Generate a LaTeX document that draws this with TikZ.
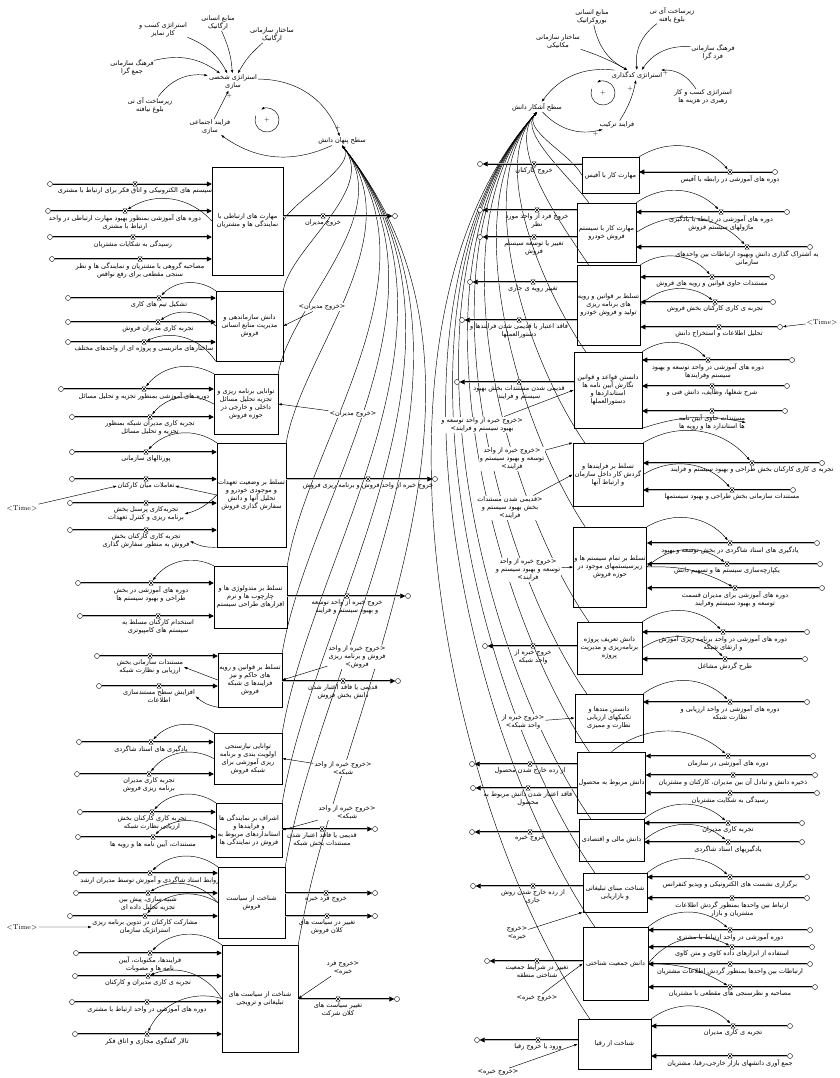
\documentclass[tikz,border=0pt]{standalone}
\usepackage{fontspec}
\usetikzlibrary{positioning,arrows.meta}
\newfontfamily\arabicfont[Script=Arabic]{DejaVu Sans}
\TeXXeTstate=1
\begin{document}
\begin{tikzpicture}[x=1pt,y=-1pt,
  every node/.style={font=\arabicfont\fontsize{6.5}{8}\selectfont},
  stock/.style={draw,line width=0.5pt,align=center,inner sep=1pt},
  cloud/.style={draw,circle,minimum size=5pt,inner sep=0pt,line width=0.4pt,fill=white},
  valve/.style={minimum size=4.5pt,inner sep=0pt,fill=white,path picture={\draw[line width=0.4pt] (path picture bounding box.north west) -- (path picture bounding box.south east) -- (path picture bounding box.south west) -- (path picture bounding box.north east) -- cycle;}},
  pipe/.style={line width=0.6pt,double=gray!55,double distance=1pt,-{Triangle[length=5pt,width=5pt]}},
  link/.style={line width=0.45pt,-{Latex[length=3.5pt,width=2.5pt]}},
  lab/.style={align=center,inner sep=0.5pt},
  shadow/.style={lab,fill=white,inner sep=1pt},
  timevar/.style={font=\rmfamily\fontsize{7}{8}\selectfont,inner sep=1pt},
  sign/.style={font=\fontsize{6}{6}\selectfont,inner sep=0.5pt}]
\useasboundingbox (0,0) rectangle (839,1078);
% top left
\node[lab] (x1) at (163,30) {\beginR استراتژی کسب و\endR\\\beginR کار تمایز\endR};
\node[lab] (x2) at (218,23) {\beginR منابع انسانی\endR\\\beginR ارگانیک\endR};
\node[lab] (x3) at (272,35) {\beginR ساختار سازمانی\endR\\\beginR ارگانیک\endR};
\node[lab] (x4) at (132,67) {\beginR فرهنگ سازمانی\endR\\\beginR جمع گرا\endR};
\node[lab] (x5) at (150,105) {\beginR زیرساخت آی تی\endR\\\beginR بلوغ نیافته\endR};
\node[shadow] (x6) at (233,82) {\beginR استراتژی شخصی\endR\\\beginR سازی\endR};
\node[lab] (x7) at (210,127) {\beginR فرایند اجتماعی\endR\\\beginR سازی\endR};
\node[shadow] (lev1) at (342,141) {\beginR سطح پنهان دانش\endR};
\draw[link] (x1) to[bend left=20] (x6);
\draw[link] (x2) to[bend left=10] (x6);
\draw[link] (x3) to[bend right=10] (x6);
\draw[link] (x4) to[bend left=25] (x6);
\draw[link] (x5) to[bend left=30] (x6);
\draw[link] (x7) -- node[sign,pos=0.8,right]{+} (x6);
\draw[link] (x6) to[bend left=35] node[sign,pos=0.95,above]{+} (lev1);
\draw[link] (lev1) to[bend left=30] (x7);
\coordinate (loopA) at (267,120);
\node[sign] at (loopA) {+};
\draw[link] (loopA) ++(200:12) arc[start angle=200,end angle=-120,radius=12];
% top right
\node[lab] (y1) at (592,17) {\beginR منابع انسانی\endR\\\beginR بوروکراتیک\endR};
\node[lab] (y2) at (672,15) {\beginR زیرساخت آی تی\endR\\\beginR بلوغ یافته\endR};
\node[lab] (y3) at (558,42) {\beginR ساختار سازمانی\endR\\\beginR مکانیکی\endR};
\node[lab] (y4) at (713,52) {\beginR فرهنگ سازمانی\endR\\\beginR فرد گرا\endR};
\node[shadow] (y5) at (637,75) {\beginR استراتژی کدگذاری\endR};
\node[lab] (y6) at (703,97) {\beginR استراتژی کسب و کار\endR\\\beginR رهبری در هزینه ها\endR};
\node[shadow] (y7) at (617,125) {\beginR فرایند ترکیب\endR};
\node[shadow] (lev2) at (537,107) {\beginR سطح آشکار دانش\endR};
\draw[link] (y1) to[bend right=25] (y5);
\draw[link] (y2) to[bend right=30] (y5);
\draw[link] (y3) to[bend left=5] (y5);
\draw[link] (y4) to[bend right=30] (y5);
\draw[link] (y6) to[bend right=30] node[sign,pos=0.9,below]{+} (y5);
\draw[link] (y7) to[bend right=10] node[sign,pos=0.8,left]{+} (y5);
\draw[link] (y5) to[bend right=30] (lev2);
\draw[link] (lev2) to[bend right=30] node[sign,pos=0.9,below]{+} (y7);
\coordinate (loopB) at (603,93);
\node[sign] at (loopB) {+};
\draw[link] (loopB) ++(200:12) arc[start angle=200,end angle=-120,radius=12];
% stocks
\node[stock,minimum width=71pt,minimum height=108pt] (L1) at (247.5,221) {\beginR مهارت های ارتباطی با\endR\\\beginR نمایندگی ها و مشتریان\endR};
\node[stock,minimum width=67pt,minimum height=70pt] (L2) at (249.5,326) {\beginR دانش سازماندهی و\endR\\\beginR مدیریت منابع انسانی\endR\\\beginR فروش\endR};
\node[stock,minimum width=64pt,minimum height=60pt] (L3) at (246,404) {\beginR توانایی برنامه ریزی و\endR\\\beginR تجزیه تحلیل مسائل\endR\\\beginR داخلی و خارجی در\endR\\\beginR حوزه فروش\endR};
\node[stock,minimum width=69pt,minimum height=104pt] (L4) at (251.5,495) {\beginR تسلط بر وضعیت تعهدات\endR\\\beginR و موجودی خودرو و\endR\\\beginR تحلیل آنها و دانش\endR\\\beginR سفارش گذاری فروش\endR};
\node[stock,minimum width=73pt,minimum height=62pt] (L5) at (250.5,597) {\beginR تسلط بر متدولوژی ها و\endR\\\beginR چارچوب ها و نرم\endR\\\beginR افزارهای طراحی سیستم\endR};
\node[stock,minimum width=64pt,minimum height=54pt] (L6) at (250,680) {\beginR تسلط بر قوانین و رویه\endR\\\beginR های حاکم و نیز\endR\\\beginR فرایندها ی شبکه\endR\\\beginR فروش\endR};
\node[stock,minimum width=68pt,minimum height=51pt] (L7) at (248,758.5) {\beginR توانایی نیازسنجی\endR\\\beginR اولویت بندی و برنامه\endR\\\beginR ریزی آموزشی برای\endR\\\beginR شبکه فروش\endR};
\node[stock,minimum width=66pt,minimum height=54pt] (L8) at (249,830) {\beginR اشراف بر نمایندگی ها\endR\\\beginR و فرایندها و\endR\\\beginR استانداردهای مربوط به\endR\\\beginR فروش در نمایندگی ها\endR};
\node[stock,minimum width=67pt,minimum height=71pt] (L9) at (251.5,902.5) {\beginR شناخت از سیاست\endR\\\beginR فروش\endR};
\node[stock,minimum width=76pt,minimum height=107pt] (L10) at (260,998.5) {\beginR شناخت از سیاست های\endR\\\beginR تبلیغاتی و ترویجی\endR};
\node[stock,minimum width=57pt,minimum height=36pt] (R1) at (610.5,175) {\beginR مهارت کار با آفیس\endR};
\node[stock,minimum width=59pt,minimum height=59pt] (R2) at (606.5,232.5) {\beginR مهارت کار با سیستم\endR\\\beginR فروش خودرو\endR};
\node[stock,minimum width=63pt,minimum height=80pt] (R3) at (608.5,305) {\beginR تسلط بر قوانین و رویه\endR\\\beginR های برنامه ریزی\endR\\\beginR تولید و فروش خودرو\endR};
\node[stock,minimum width=68pt,minimum height=76pt] (R4) at (608,390) {\beginR دانستن قواعد و قوانین\endR\\\beginR نگارش آیین نامه ها\endR\\\beginR استانداردها و\endR\\\beginR دستورالعملها\endR};
\node[stock,minimum width=70pt,minimum height=63pt] (R5) at (608,474.5) {\beginR تسلط بر فرایندها و\endR\\\beginR گردش کار داخل سازمان\endR\\\beginR و ارتباط آنها\endR};
\node[stock,minimum width=70pt,minimum height=80pt] (R6) at (610,567) {\beginR تسلط بر تمام سیستم ها و\endR\\\beginR زیرسیستمهای موجود در\endR\\\beginR حوزه فروش\endR};
\node[stock,minimum width=65pt,minimum height=52pt] (R7) at (609.5,648) {\beginR دانش تعریف پروژه\endR\\\beginR برنامه‌ریزی و مدیریت\endR\\\beginR پروژه\endR};
\node[stock,minimum width=68pt,minimum height=48pt] (R8) at (609,718) {\beginR دانستن متدها و\endR\\\beginR تکنیکهای ارزیابی\endR\\\beginR نظارت و ممیزی\endR};
\node[stock,minimum width=65pt,minimum height=61pt] (R9) at (611.5,782.5) {\beginR دانش مربوط به محصول\endR};
\node[stock,minimum width=65pt,minimum height=42pt] (R10) at (611.5,840) {\beginR دانش مالی و اقتصادی\endR};
\node[stock,minimum width=64pt,minimum height=39pt] (R11) at (615,892.5) {\beginR شناخت مبنای تبلیغاتی\endR\\\beginR و بازاریابی\endR};
\node[stock,minimum width=65pt,minimum height=73pt] (R12) at (615.5,963.5) {\beginR دانش جمعیت شناختی\endR};
\node[stock,minimum width=73pt,minimum height=50pt] (R13) at (614.5,1044) {\beginR شناخت از رقبا\endR};
% links from stocks to the two knowledge levels
\foreach \st/\an/\ax/\ay/\bx/\by in {L1/east/293/201/357/166, L2/north east/290/248/377/190, L3/north east/289/306/397/214, L4/north east/301/354/413/235, L5/north east/308/440/443/272, L6/north east/307/501/464/298, L7/north east/311/557/483/322, L8/north east/315/606/500/343, L9/north east/321/651/515/362, L10/north east/338/705/534/386}
  \draw[link] (\st.\an) .. controls (\ax,\ay) and (\bx,\by) .. (lev1.south);
\draw[link] (R1.west) .. controls (572,155) and (522,130) .. (lev2.south);
\foreach \st/\ax/\ay/\bx/\by in {R2/574/181/518/133, R3/564/228/505/147, R4/546/294/488/167, R5/530/364/469/188, R6/519/427/452/207, R7/505/500/432/229, R8/491/554/417/246, R9/485/598/405/259, R10/474/649/391/275, R11/469/690/380/287, R12/461/731/369/299, R13/440/801/350/321}
  \draw[link] ([xshift=12pt]\st.north west) .. controls (\ax,\ay) and (\bx,\by) .. (lev2.south);
% inflows
\foreach \id/\st/\sd/\y/\xc/\xv/\lab in {
a1/L1/west/184/50/135/\beginR سیستم های الکترونیکی و اتاق فکر برای ارتباط با مشتری\endR,
a2/L1/west/211/48/125/\beginR دوره های آموزشی بمنظور بهبود مهارت ارتباطی در واحد\endR\\\beginR ارتباط با مشتری\endR,
a3/L1/west/237/50/133/\beginR رسیدگی به شکایات مشتریان\endR,
a4/L1/west/259/52/140/\beginR مصاحبه گروهی با مشتریان و نمایندگی ها و نظر\endR\\\beginR سنجی مقطعی برای رفع نواقص\endR,
b1/L2/west/298/68/159/\beginR تشکیل تیم های کاری\endR,
b2/L2/west/322/68/158/\beginR تجربه کاری مدیران فروش\endR,
b3/L2/west/342/68/144/\beginR ساختارهای ماتریسی و پروژه ای از واحدهای مختلف\endR,
c1/L3/west/389/61/144/\beginR دوره های آموزشی بمنظور تجزیه و تحلیل مسائل\endR,
c2/L3/west/417/72/150/\beginR تجربه کاری مدیران شبکه بمنظور\endR\\\beginR تجزیه و تحلیل مسائل\endR,
d1/L4/west/452/72/146/\beginR پورتالهای سازمانی\endR,
d2/L4/west/479/72/146/\beginR تعاملات میان کارکنان\endR,
d3/L4/west/503/70/146/\beginR تجربه‌کاری پرسنل بخش\endR\\\beginR برنامه ریزی و کنترل تعهدات\endR,
d4/L4/west/530/70/146/\beginR تجربه کاری کارکنان بخش\endR\\\beginR فروش به منظور سفارش گذاری\endR,
e1/L5/west/583/78/151/\beginR دوره های آموزشی در بخش\endR\\\beginR طراحی و بهبود سیستم ها\endR,
e2/L5/west/616/80/158/\beginR استخدام کارکنان مسلط به\endR\\\beginR سیستم های کامپیوتری\endR,
f1/L6/west/656/97/150/\beginR مستندات سازمانی بخش\endR\\\beginR ارزیابی و نظارت شبکه\endR,
f2/L6/west/686/99/159/\beginR افزایش سطح مستندسازی\endR\\\beginR اطلاعات\endR,
g1/L7/west/742/79/151/\beginR یادگیری های استاد شاگردی\endR,
g2/L7/west/774/77/149/\beginR تجربه کاری مدیران\endR\\\beginR برنامه ریزی فروش\endR,
h1/L8/west/812/80/152/\beginR تجربه کاری کارکنان بخش\endR\\\beginR ارزیابی نظارت شبکه\endR,
h2/L8/west/837/78/153/\beginR مستندات، آیین نامه ها و رویه ها\endR,
i1/L9/west/873/76/150/\beginR روابط استاد شاگردی و آموزش توسط مدیران ارشد\endR,
i2/L9/west/893/76/148/\beginR شبیه سازی، پیش بین\endR\\\beginR تجزیه تحلیل داده ای\endR,
i3/L9/west/916/70/145/\beginR مشارکت کارکنان در تدوین برنامه ریزی\endR\\\beginR استراتژیک سازمان\endR,
j1/L10/west/953/76/150/\beginR فرایندها، مکتوبات، آیین\endR\\\beginR نامه ها و مصوبات\endR,
j2/L10/west/976/75/148/\beginR تجربه ی کاری مدیران و کارکنان\endR,
j3/L10/west/1002/72/147/\beginR دوره های آموزشی در واحد ارتباط با مشتری\endR,
j4/L10/west/1034/75/147/\beginR تالار گفتگوی مجازی و اتاق فکر\endR,
q1/R1/east/172/775/730/\beginR دوره های آموزشی در رابطه با آفیس\endR,
q2/R2/east/212/787/721/\beginR دوره های آموزشی در رابطه با یادگیری\endR\\\beginR ماژولهای سیستم فروش\endR,
q3/R2/east/247/810/747/\beginR به اشتراک گذاری دانش وبهبود ارتباطات بین واحدهای\endR\\\beginR سازمانی\endR,
q4/R3/east/277/772/712/\beginR مستندات حاوی قوانین و رویه های فروش\endR,
q5/R3/east/302/773/715/\beginR تجربه ی کاری کارکنان بخش فروش\endR,
q6/R3/east/327/780/719/\beginR تحلیل اطلاعات و استخراج دانش\endR,
q7/R4/east/360/792/708/\beginR دوره های آموزشی در واحد توسعه و بهبود\endR\\\beginR سیستم وفرایندها\endR,
q8/R4/east/386/787/712/\beginR شرح شغلها، وظایف، دانش فنی و\endR,
q9/R4/east/411/785/712/\beginR مستندات حاوی آیین نامه\endR\\\beginR ها استاندارد ها و رویه ها\endR,
q10/R5/east/463/822/752/\beginR تجربه ی کاری کارکنان بخش طراحی و بهبود سیستم و فرایند\endR,
q11/R5/east/490/793/732/\beginR مستندات سازمانی بخش طراحی و بهبود سیستمها\endR,
q12/R6/east/543/817/730/\beginR یادگیری های استاد شاگردی در بخش توسعه و بهبود\endR,
q13/R6/east/564/820/727/\beginR یکپارچه‌سازی سیستم ها و تسهیم دانش\endR,
q14/R6/east/588/822/735/\beginR دوره های آموزشی برای مدیران قسمت\endR\\\beginR توسعه و بهبود سیستم وفرایند\endR,
q15/R7/east/632/807/723/\beginR دوره های آموزشی در واحد برنامه ریزی آموزش\endR\\\beginR و ارتقای شبکه\endR,
q16/R7/east/659/805/725/\beginR طرح گردش مشاغل\endR,
q17/R8/east/702/807/730/\beginR دوره های آموزشی در واحد ارزیابی و\endR\\\beginR نظارت شبکه\endR,
q18/R9/east/756/813/728/\beginR دوره های آموزشی در سازمان\endR,
q19/R9/east/775/815/733/\beginR ذخیره دانش و تبادل آن بین مدیران، کارکنان و مشتریان\endR,
q20/R9/east/793/817/730/\beginR رسیدگی به شکایت مشتریان\endR,
q21/R10/east/823/802/728/\beginR تجربه کاری مدیران\endR,
q22/R10/east/842/802/728/\beginR یادگیریهای استاد شاگردی\endR,
q23/R11/east/877/807/730/\beginR برگزاری نشست های الکترونیکی و ویدیو کنفرانس\endR,
q24/R11/east/898/807/732/\beginR ارتباط بین واحدها بمنظور گردش اطلاعات\endR\\\beginR مشتریان و بازار\endR,
q25/R12/east/930/810/730/\beginR دوره آموزشی در واحد ارتباط با مشتری\endR,
q26/R12/east/947/812/732/\beginR استفاده از ابزارهای داده کاوی و متن کاوی\endR,
q27/R12/east/964/810/730/\beginR ارتباطات بین واحدها بمنظور گردش اطلاعات مشتریان\endR,
q28/R12/east/987/815/730/\beginR مصاحبه و نظرسنجی های مقطعی با مشتریان\endR,
q29/R13/east/1026/790/733/\beginR تجربه ی کاری مدیران\endR,
q30/R13/east/1056/790/730/\beginR جمع آوری دانشهای بازار خارجی،رقبا، مشتریان\endR}{
  \node[cloud] (c\id) at (\xc,\y) {};
  \draw[pipe] (c\id) -- (\st.\sd |- c\id) node[valve] (v\id) at (\xv,\y) {};
  \node[lab,below=0.5pt of v\id] (l\id) {\lab};
}
% outflows
\foreach \id/\st/\sd/\y/\xc/\xv/\lab in {
o1/L1/east/216/395/323/\beginR خروج مدیران\endR,
o2/L4/east/479/435/368/\beginR خروج خبره از واحد فروش و برنامه ریزی فروش\endR,
o3/L5/east/596/408/347/\beginR خروج خبره از واحد توسعه\endR\\\beginR و بهبود سیستم و فرایند\endR,
o4/L6/east/681/398/343/\beginR قدیمی یا فاقد اعتبار شدن\endR\\\beginR دانش بخش فروش\endR,
o5/L8/east/829/375/322/\beginR قدیمی یا فاقد اعتبار شدن\endR\\\beginR مستندات بخش شبکه\endR,
o6/L9/east/893/375/326/\beginR خروج فرد خبره\endR,
o7/L9/east/916/375/327/\beginR تغییر در سیاست های\endR\\\beginR کلان فروش\endR,
o8/L10/east/999/397/338/\beginR تغییر سیاست های\endR\\\beginR کلان شرکت\endR,
p1/R1/west/164/480/534/\beginR خروج کارکنان\endR,
p2/R2/west/210/480/537/\beginR خروج فرد از واحد مورد\endR\\\beginR نظر\endR,
p3/R2/west/237/480/534/\beginR تغییر یا توسعه سیستم\endR\\\beginR فروش\endR,
p4/R3/west/282/470/533/\beginR تغییر رویه ی جاری\endR,
p5/R3/west/320/462/519/\beginR فاقد اعتبار یا قدیمی شدن فرایندها و\endR\\\beginR دستورالعملها\endR,
p6/R4/west/382/457/519/\beginR قدیمی شدن مستندات بخش بهبود\endR\\\beginR سیستم و فرایند\endR,
p7/R7/west/646/485/533/\beginR خروج خبره از\endR\\\beginR واحد شبکه\endR,
p8/R9/west/764/472/530/\beginR از رده خارج شدن محصول\endR,
p9/R9/west/788/473/528/\beginR فاقد اعتبار شدن دانش مربوط به\endR\\\beginR محصول\endR,
p10/R10/west/832/472/530/\beginR خروج خبره\endR,
p11/R11/west/886/473/533/\beginR از رده خارج شدن روش\endR\\\beginR جاری\endR,
p12/R12/west/961/487/537/\beginR تغییر در شرایط جمعیت\endR\\\beginR شناختی منطقه\endR,
p13/R13/west/1040/477/538/\beginR ورود یا خروج رقبا\endR}{
  \node[cloud] (c\id) at (\xc,\y) {};
  \draw[pipe] (\st.\sd |- c\id) -- (c\id) node[valve] (v\id) at (\xv,\y) {};
  \node[lab,below=0.5pt of v\id] (l\id) {\lab};
}
% links from stocks to rates
\foreach \a/\b in {R1.north east/vq1, R2.north east/vq2, R2.east/vq3, R3.north east/vq4, R3.east/vq5, R4.north east/vq7, R5.north east/vq10, R5.east/vq11, R6.north east/vq12, R6.east/vq13, R7.north east/vq15, R7.east/vq16, R8.north east/vq17, R9.north/vq18, R10.north east/vq21, R10.east/vq22, R11.north east/vq23, R12.north east/vq25, R12.east/vq26, R13.north east/vq29}
  \draw[link] (\a) to[bend left=40] (\b);
\foreach \a/\b in {L1.west/va2, L2.north west/vb1, L2.west/vb2, L2.south west/vb3, L3.north west/vc1, L3.west/vc2, L4.north west/vd1, L5.north west/ve1, L7.north west/vg1, L7.west/vg2, L8.north west/vh1, L8.west/vh2, L9.north west/vi1, L9.west/vi2, L9.west/vi3, L10.north west/vj1, L10.west/vj2, L10.west/vj4}
  \draw[link] (\a) to[bend right=40] (\b);
\foreach \a/\b in {L4.west/ld3.east, L4.south west/ld4.east, L6.south west/lf2.east, R4.south east/lq9.east, R6.east/vq14, R12.east/vq28}
  \draw[link] (\a) to[bend left=15] (\b);
\draw[link] (L4.west) -- (ld2.east);
\draw[link] (L6.west) -- (lf1.east);
% shadow variables
\node[shadow] (s1) at (322,307) {\beginR <خروج مدیران>\endR};
\node[shadow] (s2) at (353,414) {\beginR <خروج مدیران>\endR};
\node[shadow] (s3) at (357,657) {\beginR <خروج خبره از واحد\endR\\\beginR فروش و برنامه ریزی\endR\\\beginR فروش>\endR};
\node[shadow] (s4) at (343,768) {\beginR <خروج خبره از واحد\endR\\\beginR شبکه>\endR};
\node[shadow] (s5) at (347,812) {\beginR <خروج خبره از واحد\endR\\\beginR شبکه>\endR};
\node[shadow] (s6) at (343,968) {\beginR <خروج فرد\endR\\\beginR خبره>\endR};
\node[shadow] (s7) at (482,425) {\beginR <خروج خبره از واحد توسعه و\endR\\\beginR بهبود سیستم و فرایند>\endR};
\node[shadow] (s8) at (512,459) {\beginR <خروج خبره از واحد\endR\\\beginR توسعه و بهبود سیستم و\endR\\\beginR فرایند>\endR};
\node[shadow] (s9) at (510,508) {\beginR <قدیمی شدن مستندات\endR\\\beginR بخش بهبود سیستم و\endR\\\beginR فرایند>\endR};
\node[shadow] (s10) at (528,570) {\beginR <خروج خبره از واحد\endR\\\beginR توسعه و بهبود سیستم و\endR\\\beginR فرایند>\endR};
\node[shadow] (s11) at (523,722) {\beginR <خروج خبره از\endR\\\beginR واحد شبکه>\endR};
\node[shadow] (s12) at (517,933) {\beginR <خروج\endR\\\beginR خبره>\endR};
\node[shadow] (s13) at (537,998) {\beginR <خروج خبره>\endR};
\node[shadow] (s14) at (498,1072) {\beginR <خروج خبره>\endR};
\node[timevar] (t1) at (822,322) {<Time>};
\node[timevar] (t2) at (22,508) {<Time>};
\node[timevar] (t3) at (22,927) {<Time>};
\foreach \s/\t in {s1/L2.east, s2/L3.east, s3/L6.east, s4/L7.east, s5/L8.east, s6/L10.east, s7/R4.west, s8/R5.north west, s9/R5.west, s10/R6.west, s11/R8.west, s12/R11.south west, s13/R12.west, s14/R13.west, t1/cq6, t2/ld2.west, t3/li3.west}
  \draw[link] (\s) -- (\t);
\end{tikzpicture}
\end{document}
